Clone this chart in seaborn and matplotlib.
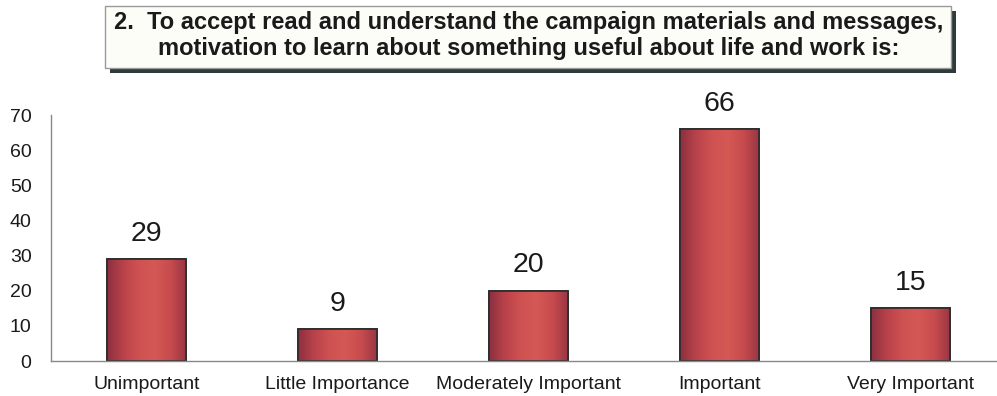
import numpy as np
import pandas as pd
import matplotlib
matplotlib.use("Agg")
import matplotlib.pyplot as plt
from matplotlib.patches import Rectangle
from matplotlib.colors import LinearSegmentedColormap
import seaborn as sns

categories = ["Unimportant", "Little Importance", "Moderately Important", "Important", "Very Important"]
values = [29, 9, 20, 66, 15]
yticks = [0, 10, 20, 30, 40, 50, 60, 70]
title_lines = ["2.  To accept read and understand the campaign materials and messages,",
               "motivation to learn about something useful about life and work is:"]

sns.set_theme(style="white")
plt.rcParams['font.family'] = ['Liberation Sans', 'DejaVu Sans']

W, H = 997, 396
fig = plt.figure(figsize=(W / 100, H / 100), dpi=100)
fig.patch.set_facecolor("white")

# axes: y=0 at 361px, y=70 at 115px; x from 51px, 191px per category
left = 51 / W
bottom = (H - 361) / H
height = (361 - 115) / H
width = (5 * 191) / W
ax = fig.add_axes([left, bottom, width, height])
ax.set_facecolor("white")

df = pd.DataFrame({"cat": categories, "val": values})
sns.barplot(data=df, x="cat", y="val", order=categories, color="#c9474a",
            width=0.41, edgecolor="#2b2b2b", linewidth=1.2, ax=ax, saturation=1)

# gradient fill clipped to each bar
cmap = LinearSegmentedColormap.from_list(
    "barfill", ["#8c3040", "#b8424a", "#cf5252", "#d45854", "#c84c4e", "#9a3644"])
grad = np.linspace(0, 1, 256).reshape(1, -1)
for p in ax.patches:
    x0, y0 = p.get_x(), p.get_y()
    w, h = p.get_width(), p.get_height()
    im = ax.imshow(grad, extent=[x0, x0 + w, y0, y0 + h], aspect="auto",
                   cmap=cmap, zorder=p.get_zorder() + 0.1, interpolation="bicubic")
    im.set_clip_path(p)
    edge = Rectangle((x0, y0), w, h, fill=False, edgecolor="#2b2b2b",
                     linewidth=1.2, zorder=p.get_zorder() + 0.2)
    ax.add_patch(edge)

ax.set_xlim(-0.5, 4.5)
ax.set_ylim(0, 70)
ax.set_yticks(yticks)
ax.set_yticklabels([str(t) for t in yticks], fontsize=14, color="#1a1a1a")
ax.set_xticks(np.arange(len(categories)))
ax.set_xticklabels(categories, fontsize=14, color="#1a1a1a")
ax.set_xticks(np.arange(len(categories) - 1) + 0.5, minor=True)
ax.tick_params(axis="x", which="major", length=0, pad=11)
ax.tick_params(axis="x", which="minor", length=4, color="#888888", direction="out")
ax.tick_params(axis="y", length=4, color="#888888", direction="out", pad=10)
ax.set_xlabel("")
ax.set_ylabel("")
for s in ["top", "right"]:
    ax.spines[s].set_visible(False)
ax.spines["left"].set_color("#888888")
ax.spines["bottom"].set_color("#888888")
ax.spines["left"].set_linewidth(1.0)
ax.spines["bottom"].set_linewidth(1.0)

for i, v in enumerate(values):
    ax.annotate(str(v), (i, v), xytext=(0, 9), textcoords="offset points",
                ha="center", va="bottom", fontsize=20.5, color="#1a1a1a")

# title box with shadow (figure pixel coords)
def fx(px):
    return px / W

def fy(py):
    return 1 - py / H

shadow = Rectangle((fx(110), fy(73)), fx(956) - fx(110), fy(11) - fy(73),
                   transform=fig.transFigure, facecolor="#2f3b3b", edgecolor="none", zorder=1)
box = Rectangle((fx(105), fy(68)), fx(951) - fx(105), fy(6) - fy(68),
                transform=fig.transFigure, facecolor="#fdfdf8", edgecolor="#9a9a9a",
                linewidth=1.0, zorder=2)
fig.add_artist(shadow)
fig.add_artist(box)
fig.text(fx(529), fy(23), title_lines[0], ha="center", va="center", fontsize=17,
         fontweight="bold", color="#1a1a1a", zorder=3)
fig.text(fx(529), fy(49), title_lines[1], ha="center", va="center", fontsize=17,
         fontweight="bold", color="#1a1a1a", zorder=3)

fig.savefig("out.png", dpi=100, facecolor="white")
